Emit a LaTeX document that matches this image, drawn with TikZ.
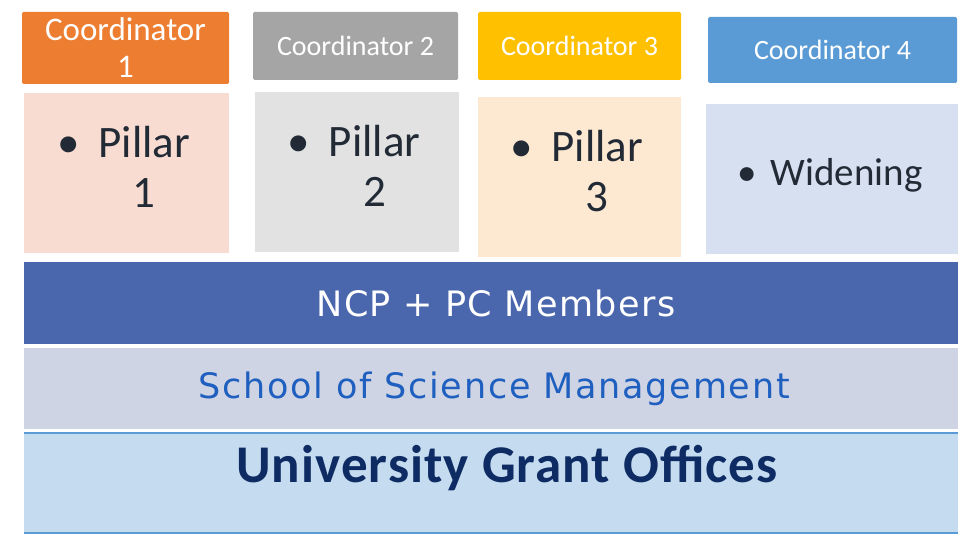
\documentclass[tikz,border=0pt]{standalone}
\usepackage{fontspec}
\setmainfont{Carlito}
\newfontfamily\widefont{DejaVu Sans}[LetterSpace=4]
\newfontfamily\widerfont{DejaVu Sans}[LetterSpace=5]
\newfontfamily\univfont{Carlito}[LetterSpace=2]
\usepackage{tikz}
\usetikzlibrary{positioning}

\definecolor{coordorange}{HTML}{ED7D31}
\definecolor{coordgray}{HTML}{A5A5A5}
\definecolor{coordgold}{HTML}{FFC000}
\definecolor{coordblue}{HTML}{5B9BD5}
\definecolor{pillarpink}{HTML}{F8DBD1}
\definecolor{pillargray}{HTML}{E2E2E2}
\definecolor{pillarpeach}{HTML}{FDE8D1}
\definecolor{pillarblue}{HTML}{D6E0F0}
\definecolor{pillartext}{HTML}{222A35}
\definecolor{ncpblue}{HTML}{4A66AC}
\definecolor{schoolgray}{HTML}{CFD4E4}
\definecolor{schooltext}{HTML}{1F5FBF}
\definecolor{univblue}{HTML}{C5DCF0}
\definecolor{univtext}{HTML}{0E2B63}

\tikzset{
  coordbox/.style={rectangle, rounded corners=1.5pt, inner sep=0pt, align=center,
    text=white, font=\fontsize{28}{32}\selectfont},
  pillarbox/.style={rectangle, inner sep=0pt, text=pillartext,
    font=\fontsize{45}{50}\selectfont},
  layerbar/.style={rectangle, inner sep=0pt, minimum width=934pt}
}

\newcommand{\pillaritem}[1]{\textbullet\hspace{19pt}\begin{tabular}[t]{@{}c@{}}Pillar\\#1\end{tabular}\hspace*{6pt}}

\begin{document}
\begin{tikzpicture}[x=1pt,y=-1pt]
\useasboundingbox (0,0) rectangle (960,534);

% coordinators
\node[coordbox, fill=coordorange, minimum width=207pt, minimum height=72pt,
  font=\fontsize{33}{37}\selectfont] (coord1) at (125.5,48) {Coordinator\\1};
\node[coordbox, fill=coordgray, minimum width=205pt, minimum height=68pt] (coord2) at (355.5,46) {Coordinator 2};
\node[coordbox, fill=coordgold, minimum width=203pt, minimum height=68pt] (coord3) at (579.5,46) {Coordinator 3};
\node[coordbox, fill=coordblue, minimum width=249pt, minimum height=66pt] (coord4) at (832.5,50) {Coordinator 4};

% pillars
\node[pillarbox, fill=pillarpink, minimum width=205pt, minimum height=160pt] (pillar1) at (126.5,173) {\pillaritem{1}};
\node[pillarbox, fill=pillargray, minimum width=204pt, minimum height=160pt] (pillar2) at (357,172) {\pillaritem{2}};
\node[pillarbox, fill=pillarpeach, minimum width=203pt, minimum height=160pt] (pillar3) at (579.5,177) {\pillaritem{3}};
\node[pillarbox, fill=pillarblue, minimum width=252pt, minimum height=150pt, text depth=14pt,
  font=\fontsize{39}{44}\selectfont] (widening) at (832,179) {\textbullet\hspace{14pt}Widening\hspace*{4pt}};

% layers
\node[layerbar, fill=ncpblue, minimum height=82pt, text=white,
  font=\widefont\fontsize{35}{40}\selectfont] (ncp) at (491,303) {\hspace*{10pt}NCP + PC Members};
\node[layerbar, fill=schoolgray, minimum height=81pt, text=schooltext,
  font=\widerfont\fontsize{35}{40}\selectfont] (school) at (491,388.5) {\hspace*{6pt}School of Science Management};
\node[layerbar, fill=univblue, minimum height=100pt, text=univtext, text height=20pt, text depth=22pt,
  font=\univfont\bfseries\fontsize{53}{58}\selectfont] (univ) at (491,483) {\hspace*{32pt}University Grant Offices};
\draw[coordblue, line width=1.5pt] (univ.north west) -- (univ.north east);
\draw[coordblue, line width=1.5pt] (univ.south west) -- (univ.south east);

\end{tikzpicture}
\end{document}
